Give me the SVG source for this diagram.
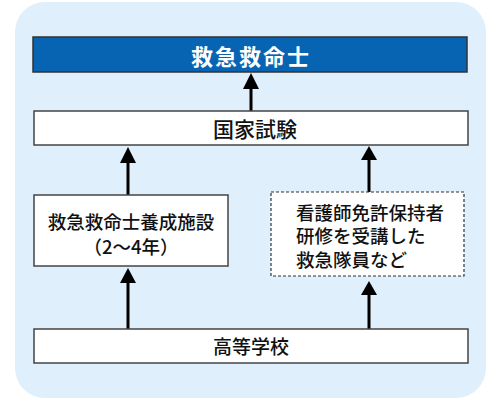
<svg xmlns="http://www.w3.org/2000/svg" width="500" height="400" viewBox="0 0 500 400">
<defs>
<style>
.bg{fill:#dfeffb;}
.box{fill:#ffffff;stroke:#444444;stroke-width:1.5;}
.dash{fill:#ffffff;stroke:#333333;stroke-width:1.2;stroke-dasharray:3,2;}
.title{fill:#0764b2;stroke:#333333;stroke-width:1.5;}
text{font-family:"Noto Sans CJK JP","Noto Sans",sans-serif;fill:#111111;dominant-baseline:central;font-weight:500;}
.t-title{fill:#ffffff;font-weight:bold;font-size:22px;letter-spacing:2px;}
.c{text-anchor:middle;}
.edge{stroke:#000000;stroke-width:3;fill:none;}
.head{fill:#000000;}
</style>
</defs>
<rect class="bg" x="15" y="2" width="471" height="396" rx="30" ry="30"/>
<g id="connectors">
<line class="edge" x1="251" y1="111" x2="251" y2="88"/>
<path class="head" d="M243,89 L251,73 L259,89 Z"/>
<line class="edge" x1="128" y1="195" x2="128" y2="162"/>
<path class="head" d="M120,163 L128,147 L136,163 Z"/>
<line class="edge" x1="369" y1="192" x2="369" y2="158"/>
<path class="head" d="M361,160 L369,146 L377,160 Z"/>
<line class="edge" x1="128" y1="329" x2="128" y2="282"/>
<path class="head" d="M120,283 L128,268 L136,283 Z"/>
<line class="edge" x1="369" y1="329" x2="369" y2="294"/>
<path class="head" d="M361,295 L369,281 L377,295 Z"/>
</g>
<g id="node-title">
<rect class="title" x="33" y="37" width="434" height="35"/>
<text class="t-title c" x="251" y="55">救急救命士</text>
</g>
<g id="node-exam">
<rect class="box" x="34" y="111" width="434" height="34"/>
<text class="c" x="255" y="128" font-size="21">国家試験</text>
</g>
<g id="node-school">
<rect class="box" x="34" y="195" width="194" height="71"/>
<text class="c" x="131" y="221" font-size="18.5">救急救命士養成施設</text>
<text class="c" x="131" y="246" font-size="18.5">（2～4年）</text>
</g>
<g id="node-nurse">
<rect class="dash" x="271" y="192" width="193" height="84"/>
<text x="296" y="211.5" font-size="18.5">看護師免許保持者</text>
<text x="296" y="235" font-size="18.5">研修を受講した</text>
<text x="296" y="258.5" font-size="18.5">救急隊員など</text>
</g>
<g id="node-highschool">
<rect class="box" x="34" y="329" width="434" height="34"/>
<text class="c" x="251" y="345" font-size="19">高等学校</text>
</g>
</svg>
